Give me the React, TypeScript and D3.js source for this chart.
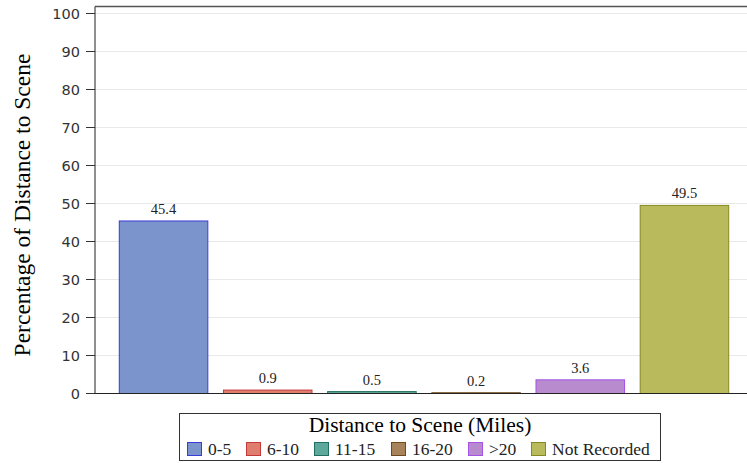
import React from "react";
import * as d3 from "d3";

const categories = ["0-5", "6-10", "11-15", "16-20", ">20", "Not Recorded"];
const values = [45.4, 0.9, 0.5, 0.2, 3.6, 49.5];
const yTicks = [0, 10, 20, 30, 40, 50, 60, 70, 80, 90, 100];
const fills = ["#7b95cc", "#df7d6f", "#5ea89b", "#a7835b", "#b88bcf", "#b8ba5b"];
const strokes = ["#3b3bd6", "#c43a3a", "#1f6f60", "#6e4b1e", "#a552e6", "#86891f"];
const legendX = [187, 246, 314, 391, 468, 531];

export default function App() {
  const W = 747, H = 463;
  const left = 95, right = 747, top = 6.5, bottom = 393.5;
  const x = d3.scaleBand<string>().domain(categories).range([95, 753]).paddingInner(0.15).paddingOuter(0.233);
  const y = d3.scaleLinear().domain([0, 100]).range([393.5, 13.5]);
  return (
    <svg width={W} height={H} style={{ position: "absolute", left: 0, top: 0, background: "#fff" }}>
      <rect x={0} y={0} width={W} height={H} fill="#fff" />
      {yTicks.map((t) => (
        <line key={"g" + t} x1={left} x2={right} y1={y(t)} y2={y(t)} stroke="#e9e9e9" strokeWidth={1} />
      ))}
      {categories.map((c, i) => (
        <g key={c}>
          <rect x={x(c)!} y={y(values[i])} width={x.bandwidth()} height={y(0) - y(values[i])}
            fill={fills[i]} stroke={strokes[i]} strokeWidth={1} />
          <text x={x(c)! + x.bandwidth() / 2} y={y(values[i]) - 7} textAnchor="middle"
            fontFamily="'Liberation Serif', serif" fontSize={14.5} fill="#222">{values[i].toFixed(1)}</text>
        </g>
      ))}
      <line x1={left} x2={right} y1={top} y2={top} stroke="#555" strokeWidth={1.5} />
      <line x1={left} x2={left} y1={top} y2={bottom} stroke="#444" strokeWidth={1.2} />
      <line x1={86} x2={right} y1={bottom} y2={bottom} stroke="#222" strokeWidth={1.2} />
      {yTicks.map((t) => (
        <g key={"t" + t}>
          <line x1={86} x2={left} y1={y(t)} y2={y(t)} stroke="#333" strokeWidth={1} />
          <text x={80} y={y(t)} dy="0.36em" textAnchor="end" fontFamily="'DejaVu Sans', sans-serif"
            fontSize={14.5} fill="#333">{t}</text>
        </g>
      ))}
      <text transform={`translate(30,${(top + bottom) / 2 + 5}) rotate(-90)`} textAnchor="middle"
        fontFamily="'Liberation Serif', serif" fontSize={23.5} fill="#000">Percentage of Distance to Scene</text>
      <rect x={179.5} y={413.5} width={481} height={47} fill="#fff" stroke="#333" strokeWidth={1} />
      <text x={420} y={432} textAnchor="middle" fontFamily="'Liberation Serif', serif" fontSize={21.5} fill="#000">Distance to Scene (Miles)</text>
      {categories.map((c, i) => (
        <g key={"l" + c}>
          <rect x={legendX[i] + 0.5} y={442.5} width={14} height={13} fill={fills[i]} stroke={strokes[i]} strokeWidth={1} />
          <text x={legendX[i] + 21} y={454.5} fontFamily="'Liberation Serif', serif" fontSize={17.5} fill="#222">{c}</text>
        </g>
      ))}
    </svg>
  );
}
